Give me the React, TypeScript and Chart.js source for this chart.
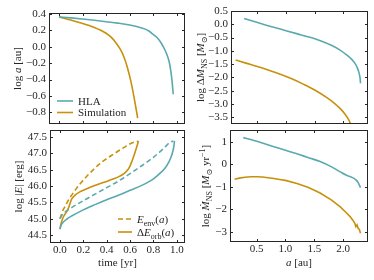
import { useEffect, useRef } from "react";
import { Chart, registerables } from "chart.js";

Chart.register(...registerables);

const W = 374;
const H = 280;
const FONT = '"Liberation Serif", "DejaVu Serif", serif';
const TEAL = "#5aa9ad";
const GOLD = "#c8900c";
const INK = "#262626";

// ---------- tick values ----------
const timeTicks = [0, 0.2, 0.4, 0.6, 0.8, 1.0];
const aTicks = [0.5, 1.0, 1.5, 2.0];
const logATicks = [0.4, 0.2, 0, -0.2, -0.4, -0.6, -0.8];
const logDMTicks = [0.5, 0, -0.5, -1, -1.5, -2, -2.5, -3, -3.5];
const logETicks = [47.5, 47, 46.5, 46, 45.5, 45, 44.5];
const logMdotTicks = [1, 0, -1, -2, -3];

// ---------- log a vs time ----------
const hlaTimeA = [0, 0.1, 0.2, 0.3, 0.4, 0.5, 0.6, 0.7, 0.76, 0.8, 0.84, 0.87, 0.9, 0.92, 0.935, 0.95, 0.96, 0.97];
const hlaLogA = [0.365, 0.352, 0.338, 0.323, 0.306, 0.288, 0.265, 0.23, 0.195, 0.15, 0.1, 0.04, -0.04, -0.11, -0.18, -0.3, -0.42, -0.58];
const simTimeA = [0, 0.05, 0.1, 0.15, 0.2, 0.25, 0.3, 0.35, 0.4, 0.44, 0.48, 0.52, 0.55, 0.58, 0.61, 0.635, 0.655, 0.668];
const simLogA = [0.365, 0.345, 0.326, 0.305, 0.285, 0.262, 0.235, 0.205, 0.165, 0.12, 0.055, -0.03, -0.12, -0.25, -0.42, -0.6, -0.76, -0.87];

// ---------- log dM_NS vs a ----------
const hlaAM = [0.27, 0.4, 0.6, 0.8, 1.0, 1.2, 1.4, 1.6, 1.8, 1.95, 2.05, 2.15, 2.2, 2.24, 2.27, 2.29, 2.3];
const hlaLogDM = [0.22, 0.13, 0.0, -0.12, -0.24, -0.36, -0.48, -0.62, -0.8, -0.98, -1.14, -1.33, -1.46, -1.62, -1.8, -2.0, -2.22];
const simAM = [0.12, 0.3, 0.5, 0.7, 0.9, 1.1, 1.3, 1.5, 1.7, 1.85, 1.95, 2.03, 2.09, 2.14];
const simLogDM = [-1.34, -1.46, -1.59, -1.73, -1.88, -2.05, -2.25, -2.47, -2.74, -2.98, -3.18, -3.38, -3.58, -3.82];

// ---------- log |E| vs time ----------
const hlaTimeEnv = [0, 0.02, 0.05, 0.1, 0.2, 0.3, 0.4, 0.5, 0.6, 0.7, 0.8, 0.86, 0.9, 0.94, 0.97];
const hlaLogEnv = [45.0, 45.12, 45.22, 45.34, 45.55, 45.75, 45.95, 46.15, 46.38, 46.62, 46.88, 47.06, 47.2, 47.33, 47.38];
const hlaTimeOrb = [0, 0.01, 0.03, 0.06, 0.1, 0.2, 0.3, 0.4, 0.5, 0.6, 0.7, 0.8, 0.86, 0.9, 0.93, 0.95, 0.965, 0.975, 0.98];
const hlaLogOrb = [44.68, 44.8, 44.9, 44.99, 45.08, 45.27, 45.43, 45.58, 45.72, 45.87, 46.02, 46.22, 46.4, 46.55, 46.72, 46.88, 47.05, 47.22, 47.38];
const simTimeEnv = [0, 0.01, 0.025, 0.045, 0.07, 0.1, 0.14, 0.18, 0.23, 0.28, 0.34, 0.4, 0.46, 0.52, 0.57, 0.61, 0.64, 0.67];
const simLogEnv = [45.0, 45.1, 45.25, 45.38, 45.55, 45.72, 45.92, 46.1, 46.3, 46.48, 46.68, 46.84, 46.98, 47.12, 47.23, 47.31, 47.35, 47.37];
const simTimeOrb = [0, 0.01, 0.025, 0.04, 0.055, 0.07, 0.085, 0.1, 0.13, 0.17, 0.22, 0.28, 0.34, 0.4, 0.46, 0.5, 0.54, 0.57, 0.595, 0.615, 0.635, 0.655, 0.672];
const simLogOrb = [44.68, 44.85, 45.02, 45.12, 45.2, 45.3, 45.45, 45.6, 45.72, 45.82, 45.9, 45.99, 46.07, 46.14, 46.22, 46.28, 46.36, 46.45, 46.58, 46.75, 46.95, 47.17, 47.38];

// ---------- log Mdot_NS vs a ----------
const hlaAMdot = [0.27, 0.4, 0.6, 0.8, 1.0, 1.2, 1.4, 1.6, 1.8, 1.95, 2.05, 2.12, 2.18, 2.22, 2.26, 2.3];
const hlaLogMdot = [1.18, 1.1, 0.94, 0.78, 0.62, 0.46, 0.29, 0.12, -0.12, -0.34, -0.48, -0.55, -0.62, -0.7, -0.82, -1.04];
const simAMdot = [0.12, 0.2, 0.3, 0.4, 0.5, 0.6, 0.7, 0.8, 0.9, 1.0, 1.2, 1.4, 1.6, 1.8, 1.95, 2.05, 2.12, 2.17, 2.2, 2.22, 2.24, 2.26, 2.28, 2.3];
const simLogMdot = [-0.67, -0.62, -0.58, -0.56, -0.56, -0.57, -0.6, -0.64, -0.68, -0.72, -0.86, -1.04, -1.28, -1.6, -1.9, -2.15, -2.33, -2.5, -2.62, -2.78, -2.7, -2.86, -2.9, -3.07];

// ---------- types ----------
type Seg = { t: string; it?: boolean; sub?: boolean; sup?: boolean };
interface Series { x: number[]; y: number[]; color: string; dash?: boolean; smooth?: boolean }
interface LegendItem { segs: Seg[]; color: string; dash?: boolean }
interface Panel {
  box: [number, number, number, number];
  yWidth: number;
  xHeight: number;
  xMin: number; xMax: number; xTicks: number[]; xDec: number; xLabels: boolean;
  yMin: number; yMax: number; yTicks: number[]; yDec: number;
  series: Series[];
  yTitle: Seg[]; yTitleX: number;
  xTitle?: Seg[]; xTitleY?: number;
  legend?: { x: number; y: number; len: number; rowH: number; items: LegendItem[] };
}

const zip = (xs: number[], ys: number[]) => xs.map((x, i) => ({ x, y: ys[i] }));
const fmt = (v: number, d: number) => (v < -1e-9 ? "\u2212" : "") + Math.abs(v).toFixed(d);

function segFont(s: Seg, size: number) {
  const sz = s.sub || s.sup ? Math.round(size * 0.72) : size;
  return `${s.it ? "italic " : ""}${sz}px ${FONT}`;
}

function drawRich(ctx: CanvasRenderingContext2D, segs: Seg[], x: number, y: number, size: number, align: "left" | "center", rot = 0) {
  ctx.save();
  ctx.translate(x, y);
  ctx.rotate(rot);
  let total = 0;
  for (const s of segs) {
    ctx.font = segFont(s, size);
    total += ctx.measureText(s.t).width;
  }
  let cx = align === "center" ? -total / 2 : 0;
  ctx.textBaseline = "alphabetic";
  ctx.textAlign = "left";
  ctx.fillStyle = INK;
  const base = size * 0.35;
  for (const s of segs) {
    ctx.font = segFont(s, size);
    const dy = s.sub ? size * 0.25 : s.sup ? -size * 0.38 : 0;
    ctx.fillText(s.t, cx, base + dy);
    cx += ctx.measureText(s.t).width;
  }
  ctx.restore();
}

function framePlugin(p: Panel) {
  return {
    id: "frame",
    afterDraw(chart: any) {
      const { ctx, chartArea: a, scales } = chart;
      ctx.save();
      ctx.strokeStyle = INK;
      ctx.lineWidth = 1;
      ctx.setLineDash([]);
      ctx.strokeRect(a.left + 0.5, a.top + 0.5, a.right - a.left - 1, a.bottom - a.top - 1);
      const tl = 3;
      ctx.beginPath();
      for (const t of scales.x.ticks) {
        const px = Math.round(scales.x.getPixelForValue(t.value)) + 0.5;
        ctx.moveTo(px, a.bottom);
        ctx.lineTo(px, a.bottom - tl);
        ctx.moveTo(px, a.top);
        ctx.lineTo(px, a.top + tl);
      }
      for (const t of scales.y.ticks) {
        const py = Math.round(scales.y.getPixelForValue(t.value)) + 0.5;
        ctx.moveTo(a.left, py);
        ctx.lineTo(a.left + tl, py);
        ctx.moveTo(a.right, py);
        ctx.lineTo(a.right - tl, py);
      }
      ctx.stroke();

      drawRich(ctx, p.yTitle, p.yTitleX, (a.top + a.bottom) / 2, 11, "center", -Math.PI / 2);
      if (p.xTitle && p.xTitleY !== undefined) {
        drawRich(ctx, p.xTitle, (a.left + a.right) / 2, p.xTitleY, 11, "center");
      }
      if (p.legend) {
        const lg = p.legend;
        lg.items.forEach((it, i) => {
          const y = lg.y + i * lg.rowH;
          ctx.strokeStyle = it.color;
          ctx.lineWidth = 1.6;
          ctx.setLineDash(it.dash ? [5, 3] : []);
          ctx.beginPath();
          ctx.moveTo(lg.x, y);
          ctx.lineTo(lg.x + lg.len, y);
          ctx.stroke();
          ctx.setLineDash([]);
          drawRich(ctx, it.segs, lg.x + lg.len + 5, y, 11, "left");
        });
      }
      ctx.restore();
    },
  };
}

function makeConfig(p: Panel): any {
  const [L, T, R, B] = p.box;
  const tickFont = { family: FONT, size: 11 };
  return {
    type: "line",
    data: {
      datasets: p.series.map((s) => ({
        data: zip(s.x, s.y),
        borderColor: s.color,
        borderWidth: 1.6,
        borderDash: s.dash ? [5, 3] : [],
        pointRadius: 0,
        fill: false,
        cubicInterpolationMode: s.smooth === false ? "default" : "monotone",
        tension: 0,
      })),
    },
    options: {
      responsive: false,
      maintainAspectRatio: false,
      animation: false,
      events: [],
      layout: { padding: { left: L - p.yWidth, top: T, right: W - R, bottom: H - B - p.xHeight } },
      plugins: { legend: { display: false }, tooltip: { enabled: false }, title: { display: false } },
      scales: {
        x: {
          type: "linear",
          position: "bottom",
          min: p.xMin,
          max: p.xMax,
          afterFit: (s: any) => { s.height = p.xHeight; },
          afterBuildTicks: (s: any) => { s.ticks = p.xTicks.map((v) => ({ value: v })); },
          grid: { display: false, drawTicks: false },
          border: { display: false },
          ticks: {
            display: p.xLabels,
            autoSkip: false,
            maxRotation: 0,
            padding: 1,
            font: tickFont,
            color: INK,
            callback: (v: number) => fmt(v, p.xDec),
          },
        },
        y: {
          type: "linear",
          position: "left",
          min: p.yMin,
          max: p.yMax,
          afterFit: (s: any) => { s.width = p.yWidth; },
          afterBuildTicks: (s: any) => { s.ticks = p.yTicks.map((v) => ({ value: v })); },
          grid: { display: false, drawTicks: false },
          border: { display: false },
          ticks: {
            autoSkip: false,
            padding: 3,
            font: tickFont,
            color: INK,
            callback: (v: number) => fmt(v, p.yDec),
          },
        },
      },
    },
    plugins: [framePlugin(p)],
  };
}

const panels: Panel[] = [
  {
    box: [49, 13, 185, 124],
    yWidth: 40,
    xHeight: 1,
    xMin: -0.085, xMax: 1.07, xTicks: timeTicks, xDec: 1, xLabels: false,
    yMin: -0.943, yMax: 0.412, yTicks: logATicks, yDec: 1,
    series: [
      { x: hlaTimeA, y: hlaLogA, color: TEAL },
      { x: simTimeA, y: simLogA, color: GOLD },
    ],
    yTitle: [{ t: "log " }, { t: "a", it: true }, { t: " [au]" }],
    yTitleX: 17,
    legend: {
      x: 57, y: 101, len: 16, rowH: 11.5,
      items: [
        { segs: [{ t: "HLA" }], color: TEAL },
        { segs: [{ t: "Simulation" }], color: GOLD },
      ],
    },
  },
  {
    box: [231, 11, 368, 124],
    yWidth: 40,
    xHeight: 1,
    xMin: 0.04, xMax: 2.43, xTicks: aTicks, xDec: 1, xLabels: false,
    yMin: -3.75, yMax: 0.5, yTicks: logDMTicks, yDec: 1,
    series: [
      { x: hlaAM, y: hlaLogDM, color: TEAL },
      { x: simAM, y: simLogDM, color: GOLD },
    ],
    yTitle: [
      { t: "log \u0394" }, { t: "M", it: true }, { t: "NS", sub: true },
      { t: " [" }, { t: "M", it: true }, { t: "\u2299", sub: true }, { t: "]" },
    ],
    yTitleX: 200,
  },
  {
    box: [50, 130, 185, 243],
    yWidth: 40,
    xHeight: 25,
    xMin: -0.085, xMax: 1.07, xTicks: timeTicks, xDec: 1, xLabels: true,
    yMin: 44.255, yMax: 47.715, yTicks: logETicks, yDec: 1,
    series: [
      { x: hlaTimeEnv, y: hlaLogEnv, color: TEAL, dash: true },
      { x: hlaTimeOrb, y: hlaLogOrb, color: TEAL },
      { x: simTimeEnv, y: simLogEnv, color: GOLD, dash: true },
      { x: simTimeOrb, y: simLogOrb, color: GOLD },
    ],
    yTitle: [{ t: "log |" }, { t: "E", it: true }, { t: "| [erg]" }],
    yTitleX: 18,
    xTitle: [{ t: "time [yr]" }],
    xTitleY: 262.5,
    legend: {
      x: 118, y: 219, len: 14, rowH: 13,
      items: [
        { segs: [{ t: "E", it: true }, { t: "env", sub: true }, { t: "(" }, { t: "a", it: true }, { t: ")" }], color: GOLD, dash: true },
        { segs: [{ t: "\u0394" }, { t: "E", it: true }, { t: "orb", sub: true }, { t: "(" }, { t: "a", it: true }, { t: ")" }], color: GOLD },
      ],
    },
  },
  {
    box: [230, 130, 368, 242],
    yWidth: 40,
    xHeight: 25,
    xMin: 0.04, xMax: 2.43, xTicks: aTicks, xDec: 1, xLabels: true,
    yMin: -3.46, yMax: 1.52, yTicks: logMdotTicks, yDec: 0,
    series: [
      { x: hlaAMdot, y: hlaLogMdot, color: TEAL },
      { x: simAMdot, y: simLogMdot, color: GOLD, smooth: false },
    ],
    yTitle: [
      { t: "log " }, { t: "\u1E40", it: true }, { t: "NS", sub: true },
      { t: " [" }, { t: "M", it: true }, { t: "\u2299", sub: true }, { t: " yr" }, { t: "\u22121", sup: true }, { t: "]" },
    ],
    yTitleX: 205,
    xTitle: [{ t: "a", it: true }, { t: " [au]" }],
    xTitleY: 262,
  },
];

function PanelChart({ p }: { p: Panel }) {
  const ref = useRef<HTMLCanvasElement | null>(null);
  useEffect(() => {
    if (!ref.current) return;
    const chart = new Chart(ref.current, makeConfig(p));
    return () => chart.destroy();
  }, [p]);
  return (
    <canvas
      ref={ref}
      width={W}
      height={H}
      style={{ position: "absolute", left: 0, top: 0, width: W, height: H }}
    />
  );
}

export default function App() {
  return (
    <div style={{ position: "fixed", left: 0, top: 0, width: W, height: H, background: "#fff", overflow: "hidden" }}>
      {panels.map((p, i) => (
        <PanelChart key={i} p={p} />
      ))}
    </div>
  );
}
